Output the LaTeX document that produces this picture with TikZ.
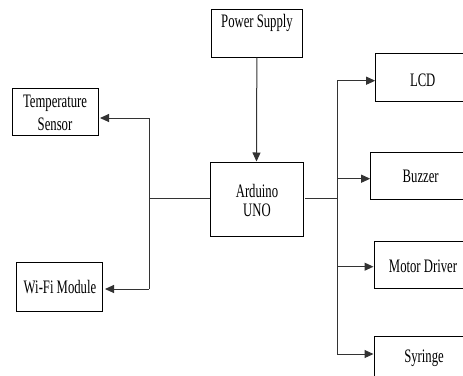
\documentclass[tikz,border=0pt]{standalone}
\usepackage{fontspec}
\setmainfont{Liberation Serif}
\usetikzlibrary{arrows.meta}
\definecolor{wirec}{HTML}{333333}
\newcommand{\stt}[1]{\scalebox{1}[1.5]{#1}}
\begin{document}
\begin{tikzpicture}[x=1pt,y=-1pt,
  box/.style={draw=black,line width=1pt,minimum width=#1,inner sep=0pt},
  lbl/.style={font=\fontsize{12.7}{14.5}\selectfont,inner sep=0pt,align=center},
  wire/.style={draw=wirec,line width=1pt},
  arr/.style={wire,-{Triangle[length=9pt,width=8pt]}}]
\useasboundingbox (0,0) rectangle (463,375);
\clip (0,0) rectangle (463,375);
% boxes
\node[box=90.3pt,minimum height=48pt] (ps) at (256.85,33) {};
\node[lbl] (pst) at (257,23) {\stt{Power Supply}};
\node[box=93pt,minimum height=74pt] (ard) at (256.5,199) {};
\node[lbl] (ardt) at (257,200.5) {\stt{\shortstack{Arduino\\[1pt]UNO}}};
\node[box=86pt,minimum height=47pt] (temp) at (55,111.5) {};
\node[lbl] (tempt) at (55,113) {\stt{\shortstack{Temperature\\[1pt]Sensor}}};
\node[box=85.3pt,minimum height=49.4pt] (wifi) at (59.35,287) {};
\node[lbl] (wifit) at (60,287) {\stt{Wi-Fi Module}};
\node[box=94pt,minimum height=48pt] (lcd) at (422.7,77.3) {};
\node[lbl] (lcdt) at (422.7,80) {\stt{LCD}};
\node[box=100pt,minimum height=46.3pt] (buz) at (420.7,175.85) {};
\node[lbl] (buzt) at (420.7,176.7) {\stt{Buzzer}};
\node[box=98pt,minimum height=47pt] (mot) at (423,264.8) {};
\node[lbl] (mott) at (423,266.7) {\stt{Motor Driver}};
\node[box=100pt,minimum height=47pt] (syr) at (424,360.2) {};
\node[lbl] (syrt) at (424,358) {\stt{Syringe}};
% junctions
\coordinate (jl) at (149,198);
\coordinate (jr) at (337,198);
% connectors
\draw[arr] (ps.south) -- (ard.north);
\draw[wire] (ard.west |- jl) -- (jl);
\draw[wire] (149,118) -- (149,289);
\draw[arr] (149,118) -- (100,118);
\draw[arr] (149,289) -- (105,289);
\draw[wire] (305,198) -- (jr);
\draw[wire] (337,80.7) -- (337,354);
\draw[arr] (337,80.7) -- (lcd.west |- 0,80.7);
\draw[arr] (337,178.7) -- (buz.west |- 0,178.7);
\draw[arr] (337,266.7) -- (mot.west |- 0,266.7);
\draw[arr] (337,354) -- (syr.west |- 0,354);
\end{tikzpicture}
\end{document}
